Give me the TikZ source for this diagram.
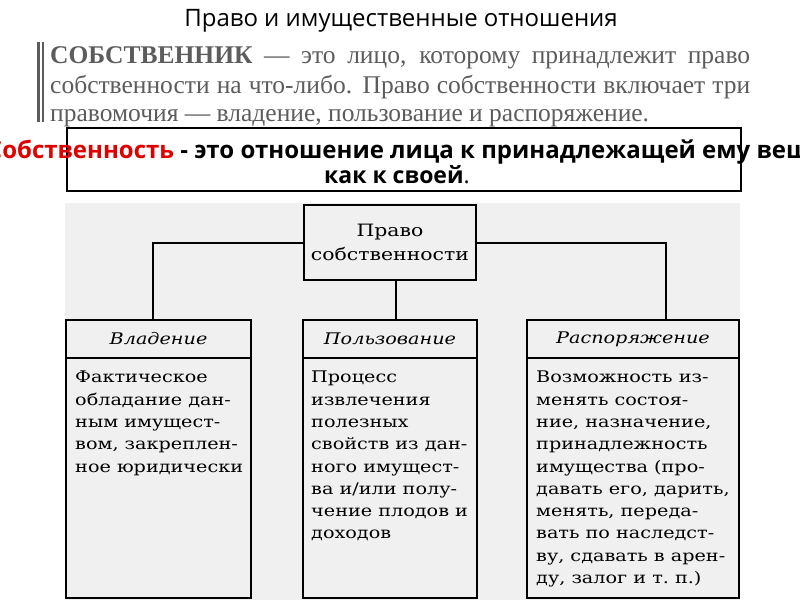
\documentclass[tikz,border=0pt]{standalone}
\usepackage{fontspec}
\setmainfont{Liberation Serif}
\newfontfamily\titlefont{Open Sans}
\newfontfamily\deffont{Open Sans}
\newfontfamily\bodyfont[FakeStretch=1.2]{DejaVu Serif}
\newfontfamily\quotefont{Liberation Serif}
\definecolor{bggray}{HTML}{F0F0F0}
\definecolor{quotegray}{HTML}{5C5C5C}
\definecolor{defred}{HTML}{E00000}
\tikzset{
  titletext/.style={inner sep=0pt, font=\titlefont\fontsize{24}{28}\selectfont},
  quoteline/.style={inner sep=0pt, anchor=base west, text=quotegray, font=\quotefont\fontsize{25.5}{28}\selectfont},
  deftext/.style={inner sep=0pt, anchor=base, font=\deffont\bfseries\fontsize{24}{28}\selectfont},
  frame/.style={draw=black, line width=2pt},
  topbox/.style={frame, fill=bggray, minimum width=172pt, minimum height=75pt, inner sep=0pt,
     align=center, font=\bodyfont\fontsize{17}{24}\selectfont},
  headtext/.style={inner sep=0pt, font=\bodyfont\itshape\fontsize{16}{20}\selectfont},
  bodytext/.style={inner sep=0pt, anchor=north west, align=left, font=\bodyfont\fontsize{16}{22.3}\selectfont},
  link/.style={draw=black, line width=2pt},
}
\begin{document}
\begin{tikzpicture}[x=1pt,y=-1pt]
\useasboundingbox (0,0) rectangle (800,600);
\clip (0,0) rectangle (800,600);
\fill[white] (0,0) rectangle (800,600);
% title
\node[titletext] (title) at (401,21) {Право и имущественные отношения};
% quotation
\fill[quotegray] (37,42) rectangle (40,122);
\fill[quotegray] (42,42) rectangle (43.5,122);
\node[quoteline] (q1) at (50,63) {\makebox[700pt][s]{\textbf{СОБСТВЕННИК} — это лицо, которому принадлежит право}};
\node[quoteline] (q2) at (50,93) {\makebox[700pt][s]{собственности на что-либо. Право собственности включает три}};
\node[quoteline] (q3) at (50,121) {правомочия — владение, пользование и распоряжение.};
% definition box
\node[frame, fill=white, minimum width=674pt, minimum height=63pt, inner sep=0pt] (defbox) at (404,159.5) {};
\node[deftext] (def1) at (407,158) {\textcolor{defred}{Собственность} - это отношение лица к принадлежащей ему вещи};
\node[deftext, font=\deffont\bfseries\fontsize{23}{28}\selectfont] (def2) at (397,183) {как к своей{\mdseries.}};
% scheme background
\fill[bggray] (65,203) rectangle (740,600);
% top node
\node[topbox] (top) at (390,242.5) {\raisebox{-3pt}{\parbox{160pt}{\centering Право\\собственности}}};
% three boxes
\node[frame, fill=bggray, minimum width=185pt, minimum height=278pt, inner sep=0pt] (own) at (158.5,459) {};
\node[frame, fill=bggray, minimum width=174pt, minimum height=278pt, inner sep=0pt] (use) at (390,459) {};
\node[frame, fill=bggray, minimum width=212pt, minimum height=278pt, inner sep=0pt] (disp) at (633,459) {};
\draw[line width=1.6pt] (own.west |- 0,358) -- (own.east |- 0,358);
\draw[line width=1.6pt] (use.west |- 0,358) -- (use.east |- 0,358);
\draw[line width=1.6pt] (disp.west |- 0,358) -- (disp.east |- 0,358);
\node[headtext] (ownh) at (158.5,339) {Владение};
\node[headtext] (useh) at (390,339) {Пользование};
\node[headtext] (disph) at (633,339) {Распоряжение};
\node[bodytext] (ownb) at (75,371) {Фактическое\\обладание дан-\\ным имущест-\\вом, закреплен-\\ное юридически};
\node[bodytext] (useb) at (311,371) {Процесс\\извлечения\\полезных\\свойств из дан-\\ного имущест-\\ва и/или полу-\\чение плодов и\\доходов};
\node[bodytext] (dispb) at (536,371) {Возможность из-\\менять состоя-\\ние, назначение,\\принадлежность\\имущества (про-\\давать его, дарить,\\менять, переда-\\вать по наследст-\\ву, сдавать в арен-\\ду, залог и т.~п.)};
% connectors
\coordinate (jl) at (153,242.5);
\coordinate (jr) at (666,242.5);
\draw[link] (top.west) -- (jl) -- (jl |- own.north);
\draw[link] (top.east) -- (jr) -- (jr |- disp.north);
\draw[link] (top.south -| 396,0) -- (396,0 |- use.north);
\end{tikzpicture}
\end{document}
